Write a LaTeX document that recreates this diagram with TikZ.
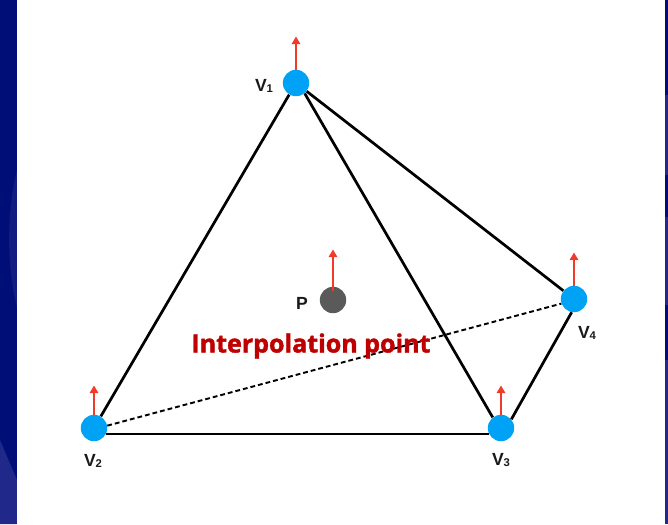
\documentclass[tikz,border=0pt]{standalone}
\usepackage{fontspec}
\setmainfont{Liberation Sans}
\newfontfamily\capfont[BoldFeatures={FakeBold=1.6}]{Open Sans}
\usepackage{tikz}
\usetikzlibrary{arrows.meta}
\definecolor{navy}{HTML}{000F78}
\definecolor{navylt}{HTML}{20288A}
\definecolor{vblue}{HTML}{00A2F5}
\definecolor{pgray}{HTML}{5A5A5A}
\definecolor{nred}{HTML}{F03A2A}
\definecolor{capred}{HTML}{BF0000}
\tikzset{
vert/.style={circle,fill=vblue,minimum size=6.6mm,inner sep=0pt},
pnt/.style={circle,fill=pgray,minimum size=6.6mm,inner sep=0pt},
edge/.style={line width=0.68mm,black},
hidden/.style={line width=0.48mm,black,dash pattern=on 1.2mm off 0.75mm},
nrm/.style={line width=0.62mm,nred,-{Triangle[length=1.9mm,width=2.1mm]}},
lab/.style={font=\bfseries\fontsize{12.5}{14}\selectfont,text=black!90},
}
\begin{document}
\begin{tikzpicture}[x=0.025cm,y=-0.025cm]
\useasboundingbox (0,0) rectangle (668,524);
\fill[navy] (0,0) rectangle (668,524);
\fill[navylt] (0,440) -- (17,480) -- (17,524) -- (0,524) -- cycle;
\fill[navylt!55!navy] (17,170) .. controls (7,210) and (6,265) .. (17,307) -- cycle;
\foreach \a/\b in {95/175,217/305,360/524} {\fill[navylt] (665,\a) rectangle (668,\b);}
\fill[white] (17,0) rectangle (665,524);
\node[vert] (v1) at (296,83) {};
\node[vert] (v2) at (94,428) {};
\node[vert] (v3) at (501,428) {};
\node[vert] (v4) at (574,299) {};
\node[pnt] (p) at (333,300) {};
\foreach \name/\h in {v1/33,v2/29,v3/29,v4/33} {
\coordinate (\name t) at ([yshift=\h*0.025cm]\name.north);
\draw[nrm] (\name.north) -- (\name t);
}
\coordinate (pt) at ([yshift=37*0.025cm]p.north);
\draw[nrm] ([yshift=-1mm]p.north) -- (pt);
\draw[edge] (v1) -- (v2);
\draw[edge] (v1.-50) -- (v3.128);
\draw[edge] (v1) -- (v4);
\draw[edge] (v2.-27) -- (v3.-153);
\draw[edge] (v3.40) -- (v4.-100);
\draw[hidden] (v2.10) -- (v4.-160);
\node[lab] (l1) at (264,86) {V\raisebox{-0.2ex}{\footnotesize 1}};
\node[lab] (l2) at (93,461) {V\raisebox{-0.2ex}{\footnotesize 2}};
\node[lab] (l3) at (501,460) {V\raisebox{-0.2ex}{\footnotesize 3}};
\node[lab] (l4) at (587,333) {V\raisebox{-0.2ex}{\footnotesize 4}};
\node[lab] (lp) at (302,303) {P};
\node[font=\capfont\bfseries\fontsize{17.8}{21}\selectfont,text=capred] (cap) at (311,346) {Interpolation point};
\end{tikzpicture}
\end{document}
